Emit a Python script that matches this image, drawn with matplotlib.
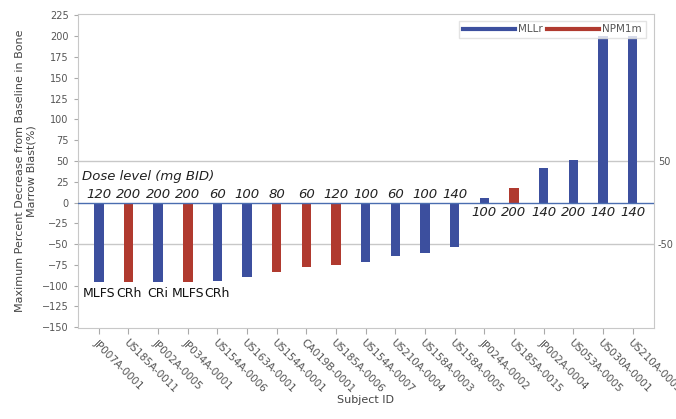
import numpy as np
import matplotlib
matplotlib.use('Agg')
import matplotlib.pyplot as plt
from matplotlib.lines import Line2D

# dados
sujeitos = ['JP007A-0001', 'US185A-0011', 'JP002A-0005', 'JP034A-0001', 'US154A-0006',
            'US163A-0001', 'US154A-0001', 'CA019B-0001', 'US185A-0006', 'US154A-0007',
            'US210A-0004', 'US158A-0003', 'US158A-0005', 'JP024A-0002', 'US185A-0015',
            'JP002A-0004', 'US053A-0005', 'US030A-0001', 'US210A-0003']
grupo = ['MLLr', 'NPM1m', 'MLLr', 'NPM1m', 'MLLr',
         'MLLr', 'NPM1m', 'NPM1m', 'NPM1m', 'MLLr',
         'MLLr', 'MLLr', 'MLLr', 'MLLr', 'NPM1m',
         'MLLr', 'MLLr', 'MLLr', 'MLLr']
valores = [-96, -96, -96, -96, -94,
           -90, -84, -77, -75, -72,
           -64, -61, -54, 6, 18,
           42, 51, 200, 200]
doses = ['120', '200', '200', '200', '60', '100', '80', '60', '120', '100',
         '60', '100', '140', '100', '200', '140', '200', '140', '140']
respostas = ['MLFS', 'CRh', 'CRi', 'MLFS', 'CRh']

cores = {'MLLr': '#3c4f9e', 'NPM1m': '#b03a2f'}
cinza = '#555555'

fig = plt.figure(figsize=(6.76, 4.19), dpi=100)
ax = fig.add_axes([0.115, 0.217, 0.852, 0.750])

x = np.arange(len(sujeitos))
ax.bar(x, valores, width=0.32, color=[cores[g] for g in grupo], zorder=3)

# linhas de referencia
ax.axhline(0, color='#4a6db0', lw=1.0, zorder=4)
ax.axhline(50, color='#c8c8c8', lw=1.0, zorder=1)
ax.axhline(-50, color='#c8c8c8', lw=1.0, zorder=1)

# doses
for i, d in enumerate(doses):
    if valores[i] < 0:
        ax.text(i, 2, d, ha='center', va='bottom', fontsize=9.5, style='italic', color='#222222')
    else:
        ax.text(i, -4, d, ha='center', va='top', fontsize=9.5, style='italic', color='#222222')
ax.text(-0.55, 23, 'Dose level (mg BID)', ha='left', va='bottom', fontsize=9.5,
        style='italic', color='#222222')

# respostas
for i, r in enumerate(respostas):
    ax.text(i, -102, r, ha='center', va='top', fontsize=9, color='#111111')

ax.set_xlim(-0.71, 18.71)
ax.set_ylim(-151, 227)
ax.set_yticks(np.arange(-150, 226, 25))
ax.set_xticks(x)
ax.set_xticklabels(sujeitos, rotation=-45, ha='left', rotation_mode='anchor',
                   fontsize=7.5, color=cinza)
ax.tick_params(axis='y', labelsize=7, labelcolor=cinza, color='#aaaaaa', length=3)
ax.tick_params(axis='x', color='#aaaaaa', length=4, pad=3)

for s in ax.spines.values():
    s.set_color('#c8c8c8')

ax.set_ylabel('Maximum Percent Decrease from Baseline in Bone\nMarrow Blast(%)',
              fontsize=8, color='#444444', labelpad=4)
ax.set_xlabel('Subject ID', fontsize=8, color='#444444', labelpad=0)

# eixo direito
ax2 = ax.twinx()
ax2.set_ylim(ax.get_ylim())
ax2.set_yticks([-50, 50])
ax2.set_yticklabels(['-50', '50'])
ax2.tick_params(axis='y', length=0, labelsize=7, labelcolor=cinza, pad=3)
for s in ax2.spines.values():
    s.set_visible(False)

# legenda
handles = [Line2D([0], [0], color=cores['MLLr'], lw=3),
           Line2D([0], [0], color=cores['NPM1m'], lw=3)]
leg = ax.legend(handles, ['MLLr', 'NPM1m'], loc='upper right', ncol=2, fontsize=7.5,
                handlelength=5, handletextpad=0.3, columnspacing=0.4,
                frameon=True, fancybox=False, borderpad=0.35,
                bbox_to_anchor=(0.995, 0.995))
leg.get_frame().set_edgecolor('#dddddd')
for t in leg.get_texts():
    t.set_color(cinza)

fig.savefig('out.png', dpi=100)
